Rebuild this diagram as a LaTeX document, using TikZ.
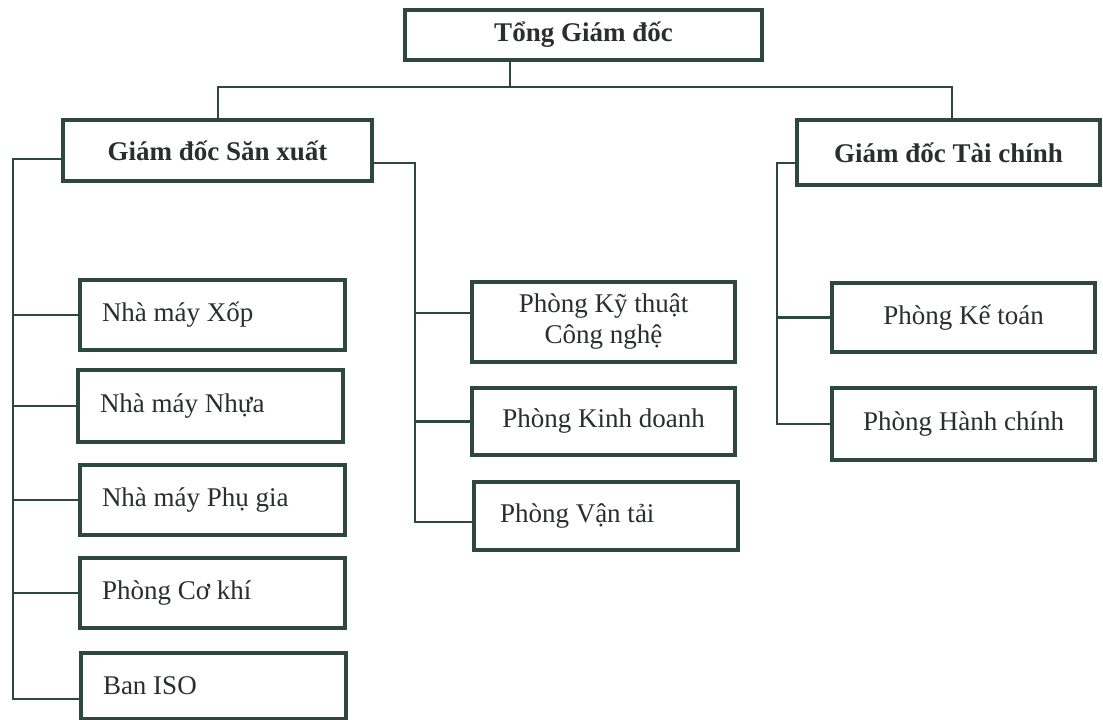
\documentclass[tikz,border=0pt]{standalone}
\usepackage{fontspec}
\setmainfont{Liberation Serif}

\begin{document}
\begin{tikzpicture}[x=1pt, y=-1pt,
    headBox/.style={draw=borderColour, line width=3.6pt, fill=white, text=textColour,
        inner sep=0pt, font=\fontsize{27}{31}\selectfont\bfseries},
    unitBox/.style={draw=borderColour, line width=3.6pt, fill=white, text=textColour,
        inner sep=0pt, font=\fontsize{27}{31}\selectfont},
    leftBox/.style={unitBox, align=flush left, inner xsep=22pt, text width=221pt, minimum height=#1},
    link/.style={draw=borderColour, line width=2.8pt}]

    \definecolor{borderColour}{HTML}{2F483F}
    \definecolor{textColour}{HTML}{2A2E2C}

    % Page frame
    \fill[white] (0,0) rectangle (1103,720);
    \useasboundingbox (0,0) rectangle (1103,720);

    % Top level
    \node[headBox, minimum width=357pt, minimum height=50pt] (tgd) at (583.5,35) {Tổng Giám đốc};

    % Directors
    \node[headBox, minimum width=309pt, minimum height=61pt] (gdsx) at (217.5,150.5) {Giám đốc Săn xuất};
    \node[headBox, minimum width=303pt, minimum height=65pt] (gdtc) at (948.5,152.5) {Giám đốc Tài chính};

    % Units under Giam doc San xuat (left column)
    \node[leftBox=70pt] (xop) at (212.5,315) {Nhà máy Xốp};
    \node[leftBox=72pt] (nhua) at (210.5,406) {Nhà máy Nhựa};
    \node[leftBox=70pt] (phugia) at (212.5,500) {Nhà máy Phụ gia};
    \node[leftBox=70pt] (cokhi) at (212.5,593) {Phòng Cơ khí};
    \node[leftBox=66pt] (iso) at (213.5,686) {Ban ISO};

    % Departments under Giam doc San xuat (middle column)
    \node[unitBox, align=center, minimum width=263pt, minimum height=80pt] (kythuat) at (603.5,322) {Phòng Kỹ thuật\\Công nghệ};
    \node[unitBox, minimum width=263pt, minimum height=67pt] (kinhdoanh) at (603.5,421.5) {Phòng Kinh doanh};
    \node[leftBox=68pt, inner xsep=26pt, text width=212pt] (vantai) at (606,516) {Phòng Vận tải};

    % Departments under Giam doc Tai chinh
    \node[unitBox, minimum width=263pt, minimum height=69pt] (ketoan) at (963.5,317.5) {Phòng Kế toán};
    \node[unitBox, minimum width=263pt, minimum height=72pt] (hanhchinh) at (963.5,424) {Phòng Hành chính};

    % Junctions
    \coordinate (stem) at (510,87);
    \coordinate (busL) at (218,87);
    \coordinate (busR) at (952,87);
    \coordinate (spineA) at (13,159);
    \coordinate (spineB) at (415,163);
    \coordinate (spineC) at (777,163);

    % Top bus
    \draw[link] (tgd.south -| stem) -- (stem);
    \draw[link] (gdsx.north -| busL) -- (busL) -- (busR) -- (gdtc.north -| busR);

    % Left spine
    \draw[link] (gdsx.west |- spineA) -- (spineA) |- ([yshift=-13pt]iso.west);
    \foreach \unit in {xop,nhua,phugia,cokhi}
        \draw[link] (spineA |- \unit.west) -- (\unit.west);

    % Middle spine
    \draw[link] (gdsx.east |- spineB) -- (spineB) |- ([yshift=-6pt]vantai.west);
    \draw[link] (spineB |- kythuat.west) ++(0,-9) -- ([yshift=9pt]kythuat.west);
    \draw[link] (spineB |- kinhdoanh.west) -- (kinhdoanh.west);

    % Right spine
    \draw[link] (gdtc.west |- spineC) -- (spineC) |- (hanhchinh.west);
    \draw[link] (spineC |- ketoan.west) -- (ketoan.west);

\end{tikzpicture}
\end{document}
